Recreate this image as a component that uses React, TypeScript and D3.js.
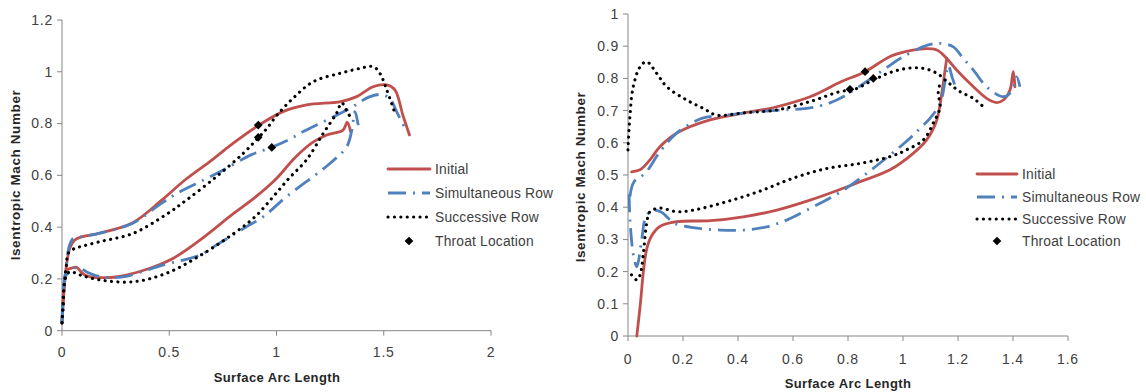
import React from "react";
import * as d3 from "d3";

type P = [number, number];

const SERIES_NAMES = ["Initial", "Simultaneous Row", "Successive Row", "Throat Location"];
const X_TITLE = "Surface Arc Length";
const Y_TITLE = "Isentropic Mach Number";

// ---------- Left chart data ----------
const L_X_TICKS = [0, 0.5, 1, 1.5, 2];
const L_X_LABELS = ["0", "0.5", "1", "1.5", "2"];
const L_Y_TICKS = [0, 0.2, 0.4, 0.6, 0.8, 1, 1.2];
const L_Y_LABELS = ["0", "0.2", "0.4", "0.6", "0.8", "1", "1.2"];

const L_INITIAL_UPPER: P[] = [
  [0, 0.03], [0.01, 0.16], [0.022, 0.26], [0.037, 0.32], [0.06, 0.35], [0.09, 0.362],
  [0.177, 0.377], [0.33, 0.417], [0.466, 0.505], [0.573, 0.582], [0.7, 0.66], [0.8, 0.725],
  [0.907, 0.788], [1.03, 0.846], [1.14, 0.872], [1.3, 0.885], [1.374, 0.904], [1.45, 0.942],
  [1.514, 0.949], [1.552, 0.93], [1.59, 0.83], [1.62, 0.756],
];
const L_INITIAL_LOWER: P[] = [
  [0, 0.03], [0.01, 0.17], [0.022, 0.234], [0.045, 0.242], [0.068, 0.245], [0.09, 0.226],
  [0.115, 0.212], [0.208, 0.205], [0.3, 0.215], [0.41, 0.241], [0.519, 0.28], [0.643, 0.35],
  [0.8, 0.453], [0.9, 0.515], [1.0, 0.588], [1.086, 0.668], [1.17, 0.728], [1.234, 0.756],
  [1.31, 0.775], [1.33, 0.805], [1.345, 0.77],
];
const L_SIMULT_UPPER: P[] = [
  [0, 0.03], [0.008, 0.16], [0.02, 0.25], [0.035, 0.33], [0.053, 0.357], [0.084, 0.362],
  [0.177, 0.377], [0.33, 0.415], [0.46, 0.49], [0.55, 0.537], [0.66, 0.582], [0.75, 0.62],
  [0.884, 0.68], [0.97, 0.706], [1.055, 0.737], [1.125, 0.769], [1.218, 0.807], [1.343, 0.859],
  [1.43, 0.902], [1.49, 0.912], [1.53, 0.895], [1.56, 0.846], [1.607, 0.77],
];
const L_SIMULT_LOWER: P[] = [
  [0, 0.03], [0.006, 0.157], [0.015, 0.209], [0.045, 0.234], [0.075, 0.245], [0.12, 0.225],
  [0.177, 0.209], [0.22, 0.205], [0.3, 0.21], [0.395, 0.234], [0.472, 0.254], [0.643, 0.292],
  [0.72, 0.331], [0.861, 0.402], [0.938, 0.44], [1.047, 0.518], [1.249, 0.646], [1.327, 0.71],
  [1.35, 0.77], [1.366, 0.846], [1.381, 0.794],
];
const L_SUCC_UPPER: P[] = [
  [0, 0.03], [0.008, 0.15], [0.02, 0.25], [0.03, 0.3], [0.06, 0.318], [0.084, 0.324],
  [0.177, 0.344], [0.332, 0.376], [0.488, 0.45], [0.581, 0.505], [0.72, 0.595], [0.845, 0.685],
  [0.915, 0.745], [0.954, 0.78], [1.0, 0.83], [1.08, 0.9], [1.172, 0.962], [1.296, 0.994],
  [1.389, 1.013], [1.451, 1.02], [1.482, 0.994], [1.514, 0.93], [1.552, 0.84],
];
const L_SUCC_LOWER: P[] = [
  [0, 0.03], [0.006, 0.093], [0.015, 0.2], [0.037, 0.228], [0.084, 0.215], [0.177, 0.196],
  [0.332, 0.189], [0.488, 0.222], [0.643, 0.29], [0.8, 0.375], [0.9, 0.44], [0.985, 0.518],
  [1.06, 0.59], [1.14, 0.66], [1.218, 0.762], [1.28, 0.84], [1.304, 0.88], [1.327, 0.85],
  [1.343, 0.827],
];
const L_THROAT: P[] = [[0.915, 0.794], [0.915, 0.747], [0.978, 0.708]];

// ---------- Right chart data ----------
const R_X_TICKS = [0, 0.2, 0.4, 0.6, 0.8, 1, 1.2, 1.4, 1.6];
const R_X_LABELS = ["0", "0.2", "0.4", "0.6", "0.8", "1", "1.2", "1.4", "1.6"];
const R_Y_TICKS = [0, 0.1, 0.2, 0.3, 0.4, 0.5, 0.6, 0.7, 0.8, 0.9, 1];
const R_Y_LABELS = ["0", "0.1", "0.2", "0.3", "0.4", "0.5", "0.6", "0.7", "0.8", "0.9", "1"];

const R_INITIAL_UPPER: P[] = [
  [0.013, 0.51], [0.044, 0.516], [0.08, 0.547], [0.116, 0.588], [0.177, 0.63], [0.298, 0.671],
  [0.419, 0.692], [0.541, 0.712], [0.662, 0.743], [0.771, 0.788], [0.862, 0.821], [0.953, 0.868],
  [1.013, 0.884], [1.074, 0.892], [1.123, 0.888], [1.159, 0.862], [1.195, 0.826], [1.256, 0.774],
  [1.304, 0.738], [1.341, 0.725], [1.365, 0.733], [1.389, 0.764], [1.401, 0.821], [1.407, 0.774],
];
const R_INITIAL_LOWER: P[] = [
  [0.032, 0], [0.045, 0.1], [0.056, 0.2], [0.068, 0.27], [0.085, 0.31], [0.116, 0.34],
  [0.177, 0.355], [0.3, 0.358], [0.419, 0.37], [0.541, 0.391], [0.662, 0.422], [0.783, 0.459],
  [0.844, 0.479], [0.953, 0.516], [1.037, 0.567], [1.086, 0.609], [1.123, 0.671], [1.141, 0.754],
  [1.153, 0.826], [1.159, 0.862],
];
const R_SIMULT_UPPER: P[] = [
  [0.007, 0.433], [0.022, 0.479], [0.062, 0.505], [0.116, 0.572], [0.177, 0.63], [0.268, 0.676],
  [0.35, 0.685], [0.45, 0.695], [0.565, 0.702], [0.65, 0.707], [0.71, 0.717], [0.759, 0.733],
  [0.807, 0.756], [0.928, 0.826], [1.0, 0.867], [1.092, 0.904], [1.135, 0.909], [1.183, 0.898],
  [1.219, 0.862], [1.256, 0.826], [1.304, 0.774], [1.365, 0.743], [1.395, 0.76], [1.413, 0.805],
  [1.425, 0.774],
];
const R_SIMULT_LOWER: P[] = [
  [0.004, 0.44], [0.008, 0.35], [0.02, 0.25], [0.032, 0.215], [0.05, 0.3], [0.065, 0.37],
  [0.09, 0.39], [0.12, 0.385], [0.17, 0.35], [0.25, 0.335], [0.335, 0.329], [0.42, 0.329],
  [0.504, 0.339], [0.577, 0.36], [0.65, 0.391], [0.783, 0.453], [0.953, 0.562], [1.025, 0.614],
  [1.062, 0.645], [1.098, 0.676], [1.135, 0.723], [1.155, 0.8], [1.165, 0.84], [1.18, 0.8],
  [1.195, 0.764],
];
const R_SUCC_UPPER: P[] = [
  [0.0, 0.578], [0.007, 0.681], [0.019, 0.774], [0.044, 0.836], [0.068, 0.852], [0.104, 0.816],
  [0.141, 0.774], [0.213, 0.733], [0.274, 0.707], [0.322, 0.686], [0.419, 0.693], [0.541, 0.702],
  [0.662, 0.728], [0.771, 0.759], [0.82, 0.765], [0.892, 0.795], [0.953, 0.818], [1.013, 0.831],
  [1.074, 0.831], [1.123, 0.816], [1.16, 0.79], [1.207, 0.759], [1.256, 0.738], [1.298, 0.707],
];
const R_SUCC_LOWER: P[] = [
  [0.013, 0.19], [0.032, 0.174], [0.044, 0.19], [0.056, 0.257], [0.068, 0.35], [0.08, 0.386],
  [0.116, 0.397], [0.177, 0.386], [0.238, 0.391], [0.359, 0.417], [0.48, 0.45], [0.6, 0.49],
  [0.722, 0.52], [0.844, 0.536], [0.953, 0.557], [1.013, 0.578], [1.074, 0.609], [1.11, 0.661],
  [1.135, 0.712], [1.128, 0.754], [1.135, 0.785],
];
const R_THROAT: P[] = [[0.807, 0.766], [0.862, 0.821], [0.892, 0.8]];

// ---------- styles ----------
const FONT = "'Liberation Sans', Arial, sans-serif";
const RED = "#C0504D";
const BLUE = "#4F81BD";
const BLACK = "#000000";
const AXIS = "#868686";
const LABEL = "#404040";

const STYLES = [
  { color: RED, width: 2.8, dash: undefined as string | undefined, cap: "round" },
  { color: BLUE, width: 2.8, dash: "18,7,2,7", cap: "butt" },
  { color: BLACK, width: 3.1, dash: "0.1,6.3", cap: "round" },
];

interface ChartCfg {
  xDomain: [number, number];
  xRange: [number, number];
  yDomain: [number, number];
  yRange: [number, number];
  xTicks: number[];
  xLabels: string[];
  yTicks: number[];
  yLabels: string[];
  xLabelY: number;
  xTitle: [number, number];
  yTitle: [number, number];
  series: P[][][];
  throat: P[];
  legend: { x0: number; x1: number; tx: number; ys: number[] };
}

const LEFT: ChartCfg = {
  xDomain: [0, 2],
  xRange: [62, 491],
  yDomain: [0, 1.2],
  yRange: [330.7, 20],
  xTicks: L_X_TICKS,
  xLabels: L_X_LABELS,
  yTicks: L_Y_TICKS,
  yLabels: L_Y_LABELS,
  xLabelY: 357,
  xTitle: [277, 382],
  yTitle: [20, 175],
  series: [
    [L_INITIAL_UPPER, L_INITIAL_LOWER],
    [L_SIMULT_UPPER, L_SIMULT_LOWER],
    [L_SUCC_UPPER, L_SUCC_LOWER],
  ],
  throat: L_THROAT,
  legend: { x0: 388, x1: 430, tx: 435, ys: [169, 193, 217, 241] },
};

const RIGHT: ChartCfg = {
  xDomain: [0, 1.6],
  xRange: [628, 1068],
  yDomain: [0, 1],
  yRange: [336, 14],
  xTicks: R_X_TICKS,
  xLabels: R_X_LABELS,
  yTicks: R_Y_TICKS,
  yLabels: R_Y_LABELS,
  xLabelY: 364,
  xTitle: [848, 388],
  yTitle: [585, 177],
  series: [
    [R_INITIAL_UPPER, R_INITIAL_LOWER],
    [R_SIMULT_UPPER, R_SIMULT_LOWER],
    [R_SUCC_UPPER, R_SUCC_LOWER],
  ],
  throat: R_THROAT,
  legend: { x0: 977, x1: 1017, tx: 1022, ys: [174, 197, 219, 241] },
};

const diamond = d3.symbol().type(d3.symbolSquare).size(38)();

function Chart({ cfg }: { cfg: ChartCfg }) {
  const x = d3.scaleLinear().domain(cfg.xDomain).range(cfg.xRange);
  const y = d3.scaleLinear().domain(cfg.yDomain).range(cfg.yRange);
  const line = d3
    .line<P>()
    .x((d) => x(d[0]))
    .y((d) => y(d[1]))
    .curve(d3.curveCatmullRom.alpha(0.5));
  const [x0, x1] = cfg.xRange;
  const [yb, yt] = cfg.yRange;
  const lg = cfg.legend;
  return (
    <g>
      <line x1={x0} x2={x0} y1={yt} y2={yb} stroke={AXIS} strokeWidth={1} />
      <line x1={x0} x2={x1} y1={yb} y2={yb} stroke={AXIS} strokeWidth={1} />
      {cfg.yTicks.map((t, i) => (
        <g key={"yt" + i}>
          <line x1={x0 - 5} x2={x0} y1={y(t)} y2={y(t)} stroke={AXIS} />
          <text
            x={x0 - 9}
            y={y(t)}
            dy="0.35em"
            textAnchor="end"
            fontSize={14}
            letterSpacing={0.8}
            fill={LABEL}
            fontFamily={FONT}
          >
            {cfg.yLabels[i]}
          </text>
        </g>
      ))}
      {cfg.xTicks.map((t, i) => (
        <g key={"xt" + i}>
          <line x1={x(t)} x2={x(t)} y1={yb} y2={yb + 5} stroke={AXIS} />
          <text
            x={x(t)}
            y={cfg.xLabelY}
            textAnchor="middle"
            fontSize={14}
            letterSpacing={0.8}
            fill={LABEL}
            fontFamily={FONT}
          >
            {cfg.xLabels[i]}
          </text>
        </g>
      ))}
      <text
        x={cfg.xTitle[0]}
        y={cfg.xTitle[1]}
        textAnchor="middle"
        fontSize={13}
        fontWeight="bold"
        letterSpacing={0.4}
        fill="#262626"
        fontFamily={FONT}
      >
        {X_TITLE}
      </text>
      <text
        transform={`translate(${cfg.yTitle[0]},${cfg.yTitle[1]}) rotate(-90)`}
        textAnchor="middle"
        fontSize={13.5}
        fontWeight="bold"
        letterSpacing={0.6}
        fill="#262626"
        fontFamily={FONT}
      >
        {Y_TITLE}
      </text>
      {cfg.series.map((segs, si) =>
        segs.map((seg, j) => (
          <path
            key={`s${si}-${j}`}
            d={line(seg) || ""}
            fill="none"
            stroke={STYLES[si].color}
            strokeWidth={STYLES[si].width}
            strokeDasharray={STYLES[si].dash}
            strokeLinecap={STYLES[si].cap as any}
            strokeLinejoin="round"
          />
        ))
      )}
      {cfg.throat.map((d, i) => (
        <path
          key={"th" + i}
          d={diamond}
          transform={`translate(${x(d[0])},${y(d[1])}) rotate(45)`}
          fill={BLACK}
        />
      ))}
      {STYLES.map((s, i) => (
        <line
          key={"lg" + i}
          x1={lg.x0}
          x2={lg.x1}
          y1={lg.ys[i]}
          y2={lg.ys[i]}
          stroke={s.color}
          strokeWidth={s.width}
          strokeDasharray={s.dash}
          strokeLinecap={s.cap as any}
        />
      ))}
      <path
        d={diamond}
        transform={`translate(${(lg.x0 + lg.x1) / 2},${lg.ys[3]}) rotate(45)`}
        fill={BLACK}
      />
      {SERIES_NAMES.map((n, i) => (
        <text
          key={"lt" + i}
          x={lg.tx}
          y={lg.ys[i]}
          dy="0.35em"
          fontSize={13.8}
          letterSpacing={0.2}
          fill={LABEL}
          fontFamily={FONT}
        >
          {n}
        </text>
      ))}
    </g>
  );
}

export default function App() {
  return (
    <svg
      width={1146}
      height={392}
      style={{ position: "absolute", left: 0, top: 0, background: "#fff" }}
    >
      <rect width={1146} height={392} fill="#fff" />
      <Chart cfg={LEFT} />
      <Chart cfg={RIGHT} />
    </svg>
  );
}
